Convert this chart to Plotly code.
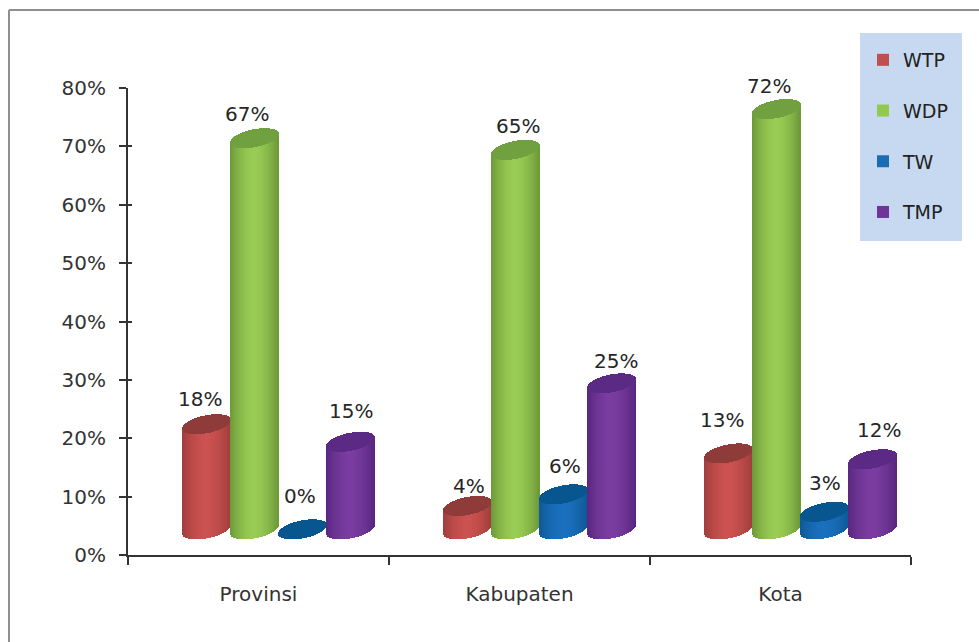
import math
import plotly.graph_objects as go

categories = ["Provinsi", "Kabupaten", "Kota"]
series_names = ["WTP", "WDP", "TW", "TMP"]
wtp = [18, 4, 13]
wdp = [67, 65, 72]
tw = [0, 6, 3]
tmp = [15, 25, 12]
series_values = [wtp, wdp, tw, tmp]
y_ticks = [0, 10, 20, 30, 40, 50, 60, 70, 80]

# styles
legend_colors = ["#c0504d", "#92c94f", "#1a6db5", "#70339a"]
center_colors = [(203, 82, 80), (153, 204, 84), (26, 112, 190), (122, 60, 160)]
edge_colors = [(160, 62, 60), (108, 152, 56), (14, 88, 150), (88, 38, 128)]
top_colors = ["#8f3b39", "#70a03f", "#07568f", "#5b2a84"]

PLOT_L, PLOT_R, PLOT_T, PLOT_B = 128, 911, 88, 555
PX_X = (PLOT_R - PLOT_L) / 3.0     # px per category
PX_Y = (PLOT_B - PLOT_T) / 80.0    # px per percent
DEPTH = 4.4                        # percent, lift of the fake 3D floor
GROUP_SHIFT = 0.077
SLOT = 48.2 / PX_X
A_PX, B_PX, SHEAR = 24.0, 9.0, 0.18
N = 48
label_dx = [[-6, 2, -6], [-8, 2, -8], [-3, 1, 0], [0, 4, 6]]
label_dy = [[25, 20, 33], [24, 24, 23], [33, 28, 29], [31, 22, 29]]


def mix(c1, c2, t):
    return "rgb(%d,%d,%d)" % tuple(round(a + (b - a) * t) for a, b in zip(c1, c2))


fig = go.Figure()
annotations = []
for s, (name, vals) in enumerate(zip(series_names, series_values)):
    off = (s - 1.5) * SLOT + GROUP_SHIFT
    fig.add_trace(go.Bar(
        x=[i + off for i in range(3)], y=vals, base=[DEPTH] * 3, width=SLOT * 0.6,
        name=name, marker=dict(color=legend_colors[s], line_width=0),
        legendgroup=name, hoverinfo="skip",
    ))
    xs, ys, bases, cols = [], [], [], []
    for i, v in enumerate(vals):
        cx = i + off
        lift = v + DEPTH
        for k in range(N):
            u = -1 + (2 * k + 1) / N
            root = math.sqrt(max(0.0, 1 - u * u))
            sh = SHEAR * u * A_PX / PX_Y
            half = B_PX * root / PX_Y
            shade = abs(u) ** 1.7
            # body strip: floor ellipse front edge up to the top ellipse
            bottom = DEPTH + sh - half
            top = lift + sh
            xs.append(cx + u * A_PX / PX_X)
            bases.append(bottom)
            ys.append(top - bottom)
            cols.append(mix(center_colors[s], edge_colors[s], shade))
        for k in range(N):
            u = -1 + (2 * k + 1) / N
            root = math.sqrt(max(0.0, 1 - u * u))
            sh = SHEAR * u * A_PX / PX_Y
            half = B_PX * root / PX_Y
            xs.append(cx + u * A_PX / PX_X)
            bases.append(lift + sh - half)
            ys.append(2 * half)
            cols.append(top_colors[s])
        annotations.append(dict(
            x=cx, y=lift, xref="x", yref="y", text="%d%%" % v, showarrow=False,
            xshift=label_dx[s][i], yshift=label_dy[s][i], yanchor="middle",
            xanchor="center", font=dict(size=20, color="#262626"),
        ))
    fig.add_trace(go.Bar(
        x=xs, y=ys, base=bases, width=2.0 * 1.3 * A_PX / N / PX_X,
        marker=dict(color=cols, line_width=0), showlegend=False, hoverinfo="skip",
    ))

fig.add_trace(go.Scatter(x=[None], y=[None], xaxis="x2", yaxis="y2",
                         showlegend=False, hoverinfo="skip"))


def px(v):
    return (v - PLOT_L) / (PLOT_R - PLOT_L)


def py(v):
    return (PLOT_B - v) / (PLOT_B - PLOT_T)


shapes = [
    dict(type="line", xref="paper", yref="paper", x0=px(9), x1=px(9), y0=py(10), y1=py(642),
         line=dict(color="#8f8f8f", width=2), layer="below"),
    dict(type="line", xref="paper", yref="paper", x0=px(9), x1=px(979), y0=py(10), y1=py(10),
         line=dict(color="#8f8f8f", width=2), layer="below"),
    dict(type="rect", xref="paper", yref="paper", x0=px(860), x1=px(962), y0=py(33), y1=py(241),
         fillcolor="#c6d9f0", line_width=0, layer="below"),
]

axis_font = dict(size=20, color="#333333", family="DejaVu Sans")
fig.update_layout(
    width=979, height=642, autosize=False,
    margin=dict(l=PLOT_L, r=979 - PLOT_R, t=PLOT_T, b=642 - PLOT_B, pad=0),
    paper_bgcolor="white", plot_bgcolor="rgba(0,0,0,0)",
    font=dict(family="DejaVu Sans", size=20, color="#333333"),
    barmode="overlay", bargap=0,
    shapes=shapes, annotations=annotations,
    xaxis=dict(range=[-0.5, 2.5], tickmode="array", tickvals=[-0.5, 0.5, 1.5, 2.5],
               showticklabels=False, ticks="outside", ticklen=8, tickwidth=2,
               tickcolor="#333333", showline=True, linecolor="#333333", linewidth=2,
               showgrid=False, zeroline=False),
    yaxis=dict(range=[0, 80], tickmode="array", tickvals=y_ticks,
               ticktext=["%d%%" % t for t in y_ticks], ticks="outside", ticklen=7,
               tickwidth=2, tickcolor="#333333", showline=True, linecolor="#333333",
               linewidth=2, showgrid=False, zeroline=False, tickfont=axis_font,
               ticklabelstandoff=9),
    xaxis2=dict(range=[-0.5, 2.5], overlaying="x", anchor="y2", side="bottom",
                tickmode="array", tickvals=[0, 1, 2], ticktext=categories,
                ticks="outside", ticklen=21, tickcolor="rgba(0,0,0,0)",
                showgrid=False, zeroline=False, showline=False, tickfont=axis_font),
    yaxis2=dict(range=[0, 80], overlaying="y", anchor="x2", side="left",
                tickmode="array", tickvals=y_ticks, showticklabels=False,
                ticks="inside", ticklen=4, tickwidth=2, tickcolor="#333333",
                showgrid=False, zeroline=False, showline=False),
    legend=dict(x=px(863), y=py(41), xanchor="left", yanchor="top",
                bgcolor="rgba(0,0,0,0)", borderwidth=0, tracegroupgap=23,
                font=dict(size=19, color="#222222", family="DejaVu Sans"),
                traceorder="grouped", itemclick=False, itemdoubleclick=False),
    hovermode=False,
)

fig.write_html("out.html", config={"displayModeBar": False},
               post_script="document.body.style.margin='0';document.body.style.overflow='hidden';")
